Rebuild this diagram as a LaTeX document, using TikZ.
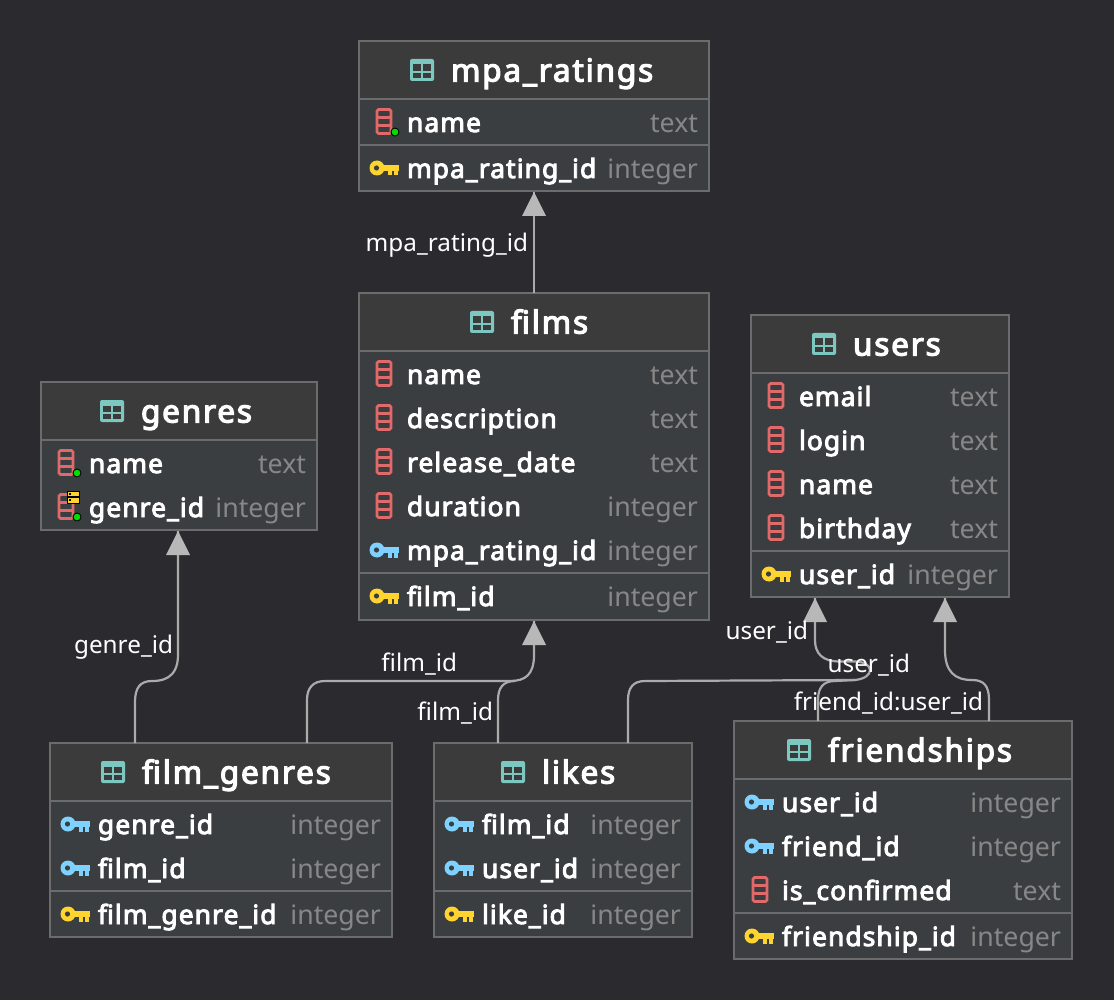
\documentclass[tikz,border=0pt]{standalone}
\usepackage{fontspec}
\setmainfont{Noto Sans}
\newfontfamily\rowbf{Noto Sans}[FakeBold=3.6,LetterSpace=4.1]
\newfontfamily\titlebf{Noto Sans}[FakeBold=3.8,LetterSpace=5.8]
\definecolor{bgc}{HTML}{2B2A2E}
\definecolor{headc}{HTML}{3C3B3B}
\definecolor{rowc}{HTML}{3B3E41}
\definecolor{borderc}{HTML}{6C6C6C}
\definecolor{typec}{HTML}{878787}
\definecolor{linec}{HTML}{ABABAB}
\definecolor{tipc}{HTML}{B8B8B8}
\definecolor{tealc}{HTML}{7CC8C0}
\definecolor{redc}{HTML}{E06A6A}
\definecolor{yelc}{HTML}{FFD42E}
\definecolor{bluec}{HTML}{7FD2FF}
\definecolor{greenc}{HTML}{00E000}
\tikzset{
  tablebox/.style={draw=borderc,line width=1.6pt,fill=rowc,inner sep=0,outer sep=0,rectangle},
  divline/.style={draw=borderc,line width=1.6pt},
  titletext/.style={anchor=base west,inner sep=0,outer sep=0,text=white,font=\titlebf\fontsize{31.5}{32}\selectfont},
  rowtext/.style={anchor=base west,inner sep=0,outer sep=0,text=white,font=\rowbf\fontsize{26.4}{27}\selectfont},
  typetext/.style={anchor=base east,inner sep=0,outer sep=0,text=typec,font=\fontsize{26.7}{27}\selectfont},
  edgelabel/.style={anchor=base east,inner sep=0,outer sep=0,text=white,font=\fontsize{24.3}{25}\selectfont},
  conn/.style={draw=linec,line width=2.2pt,rounded corners=0pt},
  tiptri/.style={fill=tipc,draw=none}
}
\newcount\rowno
\newcommand{\nextrow}{\global\advance\rowno by 1 }
\newcommand{\tbl}[6]{%
  \node[tablebox,minimum width={(#4-#2)*1pt},minimum height={(#5-#3)*1pt}] (#1) at ({(#2+#4)/2},{(#3+#5)/2}) {};
  \fill[headc] (#2+1,#3+1) rectangle (#4-1,#6);
  \draw[divline] (#2,#6) -- (#4,#6);
}
\newcommand{\divl}[3]{\draw[divline] (#1,#3) -- (#2,#3);}
\newcommand{\ttl}[4]{%
  \fill[tealc,rounded corners=2pt] (#1,#2-11) rectangle (#1+24,#2+11);
  \fill[headc] (#1+3.3,#2-5.5) rectangle (#1+11.3,#2+0.8);
  \fill[headc] (#1+13.3,#2-5.5) rectangle (#1+21.3,#2+0.8);
  \fill[headc] (#1+3.3,#2+2.8) rectangle (#1+11.3,#2+8);
  \fill[headc] (#1+13.3,#2+2.8) rectangle (#1+21.3,#2+8);
  \nextrow\node[titletext] (t\the\rowno) at (#3,#2+11.5) {#4};
}
\newcommand{\colicon}[2]{%
  \draw[redc,line width=2.6pt,rounded corners=1.5pt] (#1-6,#2-12.5) rectangle (#1+8,#2+11.5);
  \draw[redc,line width=2.4pt] (#1-6,#2-4.5) -- (#1+8,#2-4.5) (#1-6,#2+3.5) -- (#1+8,#2+3.5);
}
\newcommand{\nndot}[2]{\fill[greenc,draw=black,line width=0.9pt] (#1+12,#2+10) circle (4);}
\newcommand{\idxicon}[2]{%
  \fill[yelc,draw=black,line width=0.6pt] (#1+2,#2-16) rectangle (#1+14,#2-10.5);
  \fill[yelc,draw=black,line width=0.6pt] (#1+2,#2-9.5) rectangle (#1+14,#2-4);
  \fill[black] (#1+3.5,#2-14.5) rectangle (#1+5.5,#2-12.5);
  \fill[black] (#1+3.5,#2-8) rectangle (#1+5.5,#2-6);
}
\newcommand{\keyicon}[3]{%
  \fill[#3] (#1+7,#2) circle (7.5);
  \fill[#3] (#1+7,#2-3) rectangle (#1+29,#2+3);
  \fill[#3] (#1+18,#2) rectangle (#1+22,#2+7.5);
  \fill[#3] (#1+24,#2) rectangle (#1+28,#2+7.5);
  \fill[rowc] (#1+6.5,#2) circle (2.6);
}
\newcommand{\rowtxt}[5]{%
  \nextrow\node[rowtext] (t\the\rowno) at (#1,#2+9) {#3};
  \nextrow\node[typetext] (t\the\rowno) at (#4,#2+9.5) {#5};
}
\begin{document}
\begin{tikzpicture}[x=1pt,y=-1pt]
\useasboundingbox (0,0) rectangle (1114,1000);
\fill[bgc] (0,0) rectangle (1114,1000);

\tbl{mpa}{359}{41}{709}{191}{99}
\divl{359}{709}{145}
\ttl{410}{70}{451}{mpa\_ratings}
\colicon{383}{122}\nndot{383}{122}
\rowtxt{407}{123}{name}{698}{text}
\keyicon{370}{168}{yelc}
\rowtxt{407}{169}{mpa\_rating\_id}{698}{integer}

\tbl{films}{359}{293}{709}{620}{351}
\divl{359}{709}{573}
\ttl{470}{322}{511}{films}
\colicon{383}{374}\rowtxt{407}{375}{name}{698}{text}
\colicon{383}{418}\rowtxt{407}{419}{description}{698}{text}
\colicon{383}{462}\rowtxt{407}{463}{release\_date}{698}{text}
\colicon{383}{506}\rowtxt{407}{507}{duration}{698}{integer}
\keyicon{370}{550}{bluec}\rowtxt{407}{551}{mpa\_rating\_id}{698}{integer}
\keyicon{370}{596}{yelc}\rowtxt{407}{597}{film\_id}{698}{integer}

\tbl{users}{751}{315}{1009}{597}{373}
\divl{751}{1009}{551}
\ttl{812}{344}{853}{users}
\colicon{775}{396}\rowtxt{799}{397}{email}{998}{text}
\colicon{775}{440}\rowtxt{799}{441}{login}{998}{text}
\colicon{775}{484}\rowtxt{799}{485}{name}{998}{text}
\colicon{775}{528}\rowtxt{799}{529}{birthday}{998}{text}
\keyicon{762}{574}{yelc}\rowtxt{799}{575}{user\_id}{998}{integer}

\tbl{genres}{41}{382}{317}{530}{440}
\ttl{100}{411}{141}{genres}
\colicon{65}{463}\nndot{65}{463}\rowtxt{89}{464}{name}{306}{text}
\colicon{65}{507}\nndot{65}{507}\idxicon{65}{507}\rowtxt{89}{508}{genre\_id}{306}{integer}

\tbl{fg}{50}{743}{392}{937}{801}
\divl{50}{392}{891}
\ttl{101}{772}{142}{film\_genres}
\keyicon{61}{824}{bluec}\rowtxt{98}{825}{genre\_id}{381}{integer}
\keyicon{61}{868}{bluec}\rowtxt{98}{869}{film\_id}{381}{integer}
\keyicon{61}{914}{yelc}\rowtxt{98}{915}{film\_genre\_id}{381}{integer}

\tbl{likes}{434}{743}{692}{937}{801}
\divl{434}{692}{891}
\ttl{501}{772}{542}{likes}
\keyicon{445}{824}{bluec}\rowtxt{482}{825}{film\_id}{681}{integer}
\keyicon{445}{868}{bluec}\rowtxt{482}{869}{user\_id}{681}{integer}
\keyicon{445}{914}{yelc}\rowtxt{482}{915}{like\_id}{681}{integer}

\tbl{fr}{734}{721}{1072}{959}{779}
\divl{734}{1072}{913}
\ttl{787}{750}{828}{friendships}
\keyicon{745}{802}{bluec}\rowtxt{782}{803}{user\_id}{1061}{integer}
\keyicon{745}{846}{bluec}\rowtxt{782}{847}{friend\_id}{1061}{integer}
\colicon{759}{890}\rowtxt{782}{891}{is\_confirmed}{1061}{text}
\keyicon{745}{936}{yelc}\rowtxt{782}{937}{friendship\_id}{1061}{integer}

\coordinate (mpaT) at (534,192);
\coordinate (filmsS) at (534,293);
\coordinate (genT) at (178,531);
\coordinate (filmT) at (534,621);
\coordinate (userTa) at (815,598);
\coordinate (userTb) at (945,598);
\coordinate (fgG) at (135,743);
\coordinate (fgF) at (307,743);
\coordinate (lkF) at (498,743);
\coordinate (lkU) at (628,743);
\coordinate (frF) at (818,721);
\coordinate (frU) at (989,721);

\draw[conn] (filmsS) -- (mpaT);
\draw[conn] (fgG) -- (135,702) .. controls (135,688) and (140,681) .. (152,681) .. controls (160,681) and (178,680) .. (178,655) -- (genT);
\draw[conn] (fgF) -- (307,700) .. controls (307,688) and (313,681) .. (325,681) -- (510,681) .. controls (525,681) and (534,675) .. (534,655) -- (filmT);
\draw[conn] (lkF) -- (498,700) .. controls (498,688) and (503,681) .. (515,681);
\draw[conn] (lkU) -- (628,700) .. controls (628,688) and (633,681) .. (645,681) -- (855,680) .. controls (875,678) and (875,662) .. (855,661.5) -- (838,661.5) .. controls (823,661) and (815,654) .. (815,640) -- (userTa);
\draw[conn] (frF) -- (818,700) .. controls (818,688) and (823,681) .. (835,681) -- (855,680);
\draw[conn] (frU) -- (989,700) .. controls (989,686) and (984,680) .. (972,680) .. controls (955,680) and (945,672) .. (945,650) -- (userTb);

\fill[tiptri] (mpaT) -- ++(-12,24) -- ++(24,0) -- cycle;
\fill[tiptri] (genT) -- ++(-12,24) -- ++(24,0) -- cycle;
\fill[tiptri] (filmT) -- ++(-12,24) -- ++(24,0) -- cycle;
\fill[tiptri] (userTa) -- ++(-12,24) -- ++(24,0) -- cycle;
\fill[tiptri] (userTb) -- ++(-12,24) -- ++(24,0) -- cycle;

\node[edgelabel] (l1) at (528,252) {mpa\_rating\_id};
\node[edgelabel] (l2) at (173,653) {genre\_id};
\node[edgelabel] (l3) at (457,671) {film\_id};
\node[edgelabel] (l4) at (493,720) {film\_id};
\node[edgelabel] (l5) at (808,639) {user\_id};
\node[edgelabel] (l6) at (910,672) {user\_id};
\node[edgelabel] (l7) at (983,710) {friend\_id:user\_id};
\end{tikzpicture}
\end{document}
